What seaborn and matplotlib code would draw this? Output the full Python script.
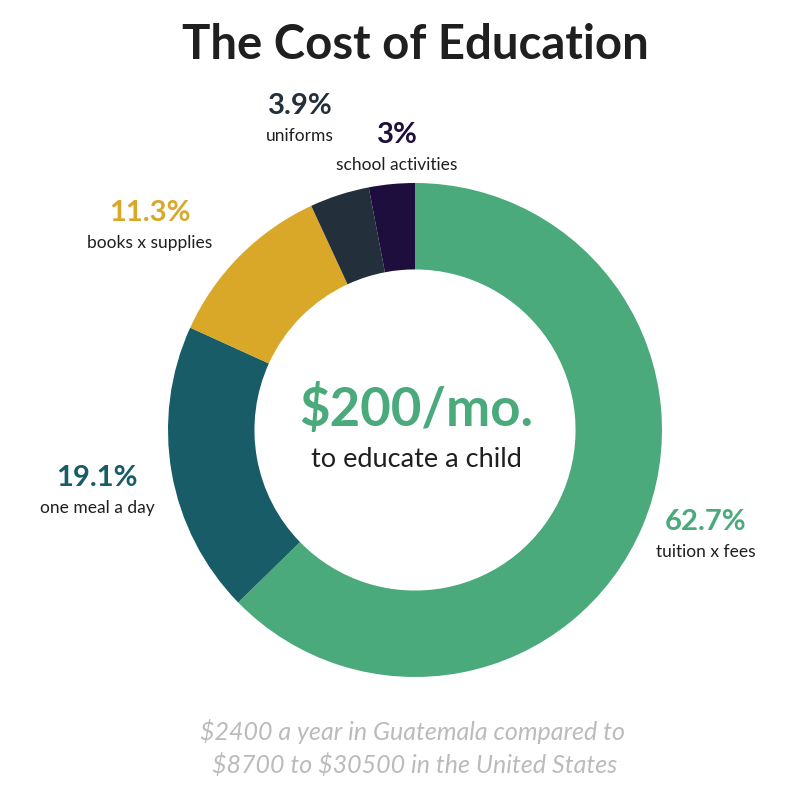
import matplotlib
matplotlib.use("Agg")
import matplotlib.pyplot as plt
import seaborn as sns

sns.set_theme(style="white")
plt.rcParams["font.family"] = ["Lato", "DejaVu Sans"]
plt.rcParams["text.parse_math"] = False

# ===== DATA =====
categorias = ["tuition x fees", "one meal a day", "books x supplies", "uniforms", "school activities"]
percentuais = [62.7, 19.1, 11.3, 3.9, 3.0]
rotulos = ["62.7%", "19.1%", "11.3%", "3.9%", "3%"]
cores = ["#4aaa7c", "#175c66", "#d9a829", "#232f3b", "#1e0e3d"]

# posicoes dos rotulos em pixels (x, y do centro do percentual)
pos_rotulos = [(706, 522), (97, 478), (150, 213), (300, 106), (397, 135)]

fig = plt.figure(figsize=(8, 8), dpi=100)

def px(x, y):
    return x / 800, 1 - y / 800

# ===== DONUT =====
ax = fig.add_axes([0.21, 0.15375, 0.6175, 0.6175])
ax.pie(percentuais, colors=cores, startangle=90, counterclock=False,
       radius=1.0, wedgeprops=dict(width=0.35, edgecolor="none"))
ax.set_aspect("equal")
ax.set_xlim(-1, 1)
ax.set_ylim(-1, 1)
ax.axis("off")

# ===== TEXTOS =====
fig.text(*px(415, 45), "The Cost of Education", ha="center", va="center",
         fontsize=34, fontweight="bold", color="#1f1f1f")

fig.text(*px(416, 410), "$200/mo.", ha="center", va="center",
         fontsize=38, fontweight="bold", color=cores[0])
fig.text(*px(416, 460), "to educate a child", ha="center", va="center",
         fontsize=19.5, color="#1f1f1f")

for (x, y), rot, cat, cor in zip(pos_rotulos, rotulos, categorias, cores):
    fig.text(*px(x, y), rot, ha="center", va="center",
             fontsize=21, fontweight="bold", color=cor)
    fig.text(*px(x, y + 30), cat, ha="center", va="center",
             fontsize=12.5, color="#1f1f1f")

fig.text(*px(412, 731), "$2400 a year in Guatemala compared to", ha="center", va="center",
         fontsize=18, style="italic", color="#bbbbbb")
fig.text(*px(415, 765), "$8700 to $30500 in the United States", ha="center", va="center",
         fontsize=18, style="italic", color="#bbbbbb")

fig.savefig("out.png", dpi=100, facecolor="white")
